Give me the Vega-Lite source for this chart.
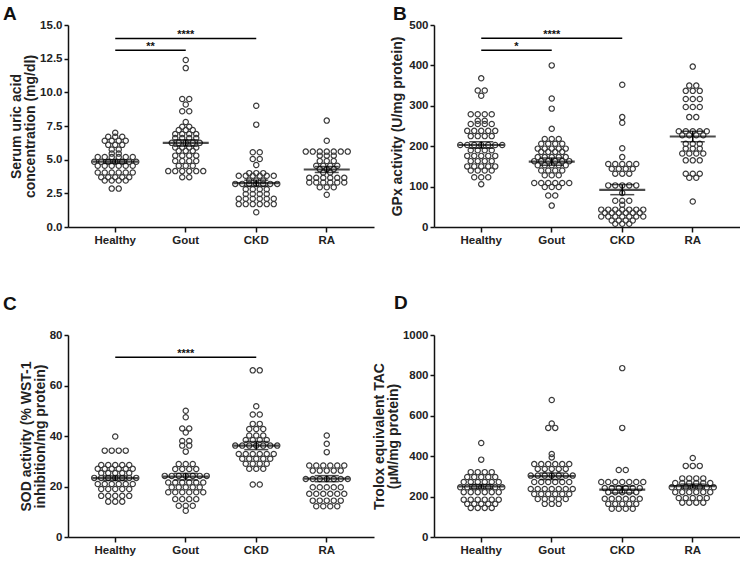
{
"$schema":"https://vega.github.io/schema/vega-lite/v6.json",
"background":"white",
"padding":{"left":3,"top":5,"right":0,"bottom":0},
"config":{"view":{"stroke":null},"font":"Liberation Sans",
"axis":{"labelFont":"Liberation Sans","labelFontWeight":"bold","labelFontSize":11.5,"labelColor":"#222","titleFont":"Liberation Sans","titleFontWeight":"bold","titleFontSize":14,"titleColor":"#222","domainColor":"#111","domainWidth":1.5,"tickColor":"#111","tickWidth":1.5,"grid":false,"tickSize":4,"labelPadding":2,"labelOverlap":false,"titlePadding":2,"titleLineHeight":14}},
"datasets":{
"ptsA":[
{"group":"Healthy","value":7.0},{"group":"Healthy","value":6.7},{"group":"Healthy","value":6.7},{"group":"Healthy","value":6.7},{"group":"Healthy","value":6.4},{"group":"Healthy","value":6.4},{"group":"Healthy","value":6.4},{"group":"Healthy","value":6.4},{"group":"Healthy","value":6.1},{"group":"Healthy","value":6.1},{"group":"Healthy","value":6.1},{"group":"Healthy","value":5.75},{"group":"Healthy","value":5.75},{"group":"Healthy","value":5.45},{"group":"Healthy","value":5.45},{"group":"Healthy","value":5.2},{"group":"Healthy","value":5.2},{"group":"Healthy","value":5.2},{"group":"Healthy","value":5.2},{"group":"Healthy","value":5.2},{"group":"Healthy","value":5.2},{"group":"Healthy","value":4.85},{"group":"Healthy","value":4.85},{"group":"Healthy","value":4.85},{"group":"Healthy","value":4.85},{"group":"Healthy","value":4.85},{"group":"Healthy","value":4.85},{"group":"Healthy","value":4.85},{"group":"Healthy","value":4.55},{"group":"Healthy","value":4.55},{"group":"Healthy","value":4.55},{"group":"Healthy","value":4.55},{"group":"Healthy","value":4.55},{"group":"Healthy","value":4.55},{"group":"Healthy","value":4.05},{"group":"Healthy","value":4.05},{"group":"Healthy","value":4.05},{"group":"Healthy","value":4.05},{"group":"Healthy","value":4.05},{"group":"Healthy","value":4.05},{"group":"Healthy","value":3.7},{"group":"Healthy","value":3.7},{"group":"Healthy","value":3.7},{"group":"Healthy","value":3.7},{"group":"Healthy","value":3.7},{"group":"Healthy","value":3.45},{"group":"Healthy","value":3.45},{"group":"Healthy","value":3.45},{"group":"Healthy","value":3.45},{"group":"Healthy","value":2.85},{"group":"Healthy","value":2.85},
{"group":"Gout","value":12.4},{"group":"Gout","value":11.8},{"group":"Gout","value":9.5},{"group":"Gout","value":9.5},{"group":"Gout","value":9.1},{"group":"Gout","value":8.6},{"group":"Gout","value":8.6},{"group":"Gout","value":7.8},{"group":"Gout","value":7.45},{"group":"Gout","value":7.45},{"group":"Gout","value":7.2},{"group":"Gout","value":7.2},{"group":"Gout","value":7.2},{"group":"Gout","value":6.9},{"group":"Gout","value":6.9},{"group":"Gout","value":6.9},{"group":"Gout","value":6.9},{"group":"Gout","value":6.6},{"group":"Gout","value":6.6},{"group":"Gout","value":6.6},{"group":"Gout","value":6.6},{"group":"Gout","value":6.25},{"group":"Gout","value":6.25},{"group":"Gout","value":6.25},{"group":"Gout","value":6.25},{"group":"Gout","value":6.25},{"group":"Gout","value":5.9},{"group":"Gout","value":5.9},{"group":"Gout","value":5.9},{"group":"Gout","value":5.9},{"group":"Gout","value":5.65},{"group":"Gout","value":5.65},{"group":"Gout","value":5.65},{"group":"Gout","value":5.3},{"group":"Gout","value":5.3},{"group":"Gout","value":5.3},{"group":"Gout","value":5.3},{"group":"Gout","value":4.9},{"group":"Gout","value":4.9},{"group":"Gout","value":4.9},{"group":"Gout","value":4.9},{"group":"Gout","value":4.55},{"group":"Gout","value":4.55},{"group":"Gout","value":4.55},{"group":"Gout","value":4.15},{"group":"Gout","value":4.15},{"group":"Gout","value":4.15},{"group":"Gout","value":4.15},{"group":"Gout","value":4.15},{"group":"Gout","value":4.15},{"group":"Gout","value":3.7},{"group":"Gout","value":3.7},
{"group":"CKD","value":9.0},{"group":"CKD","value":7.6},{"group":"CKD","value":5.55},{"group":"CKD","value":5.55},{"group":"CKD","value":5.05},{"group":"CKD","value":5.05},{"group":"CKD","value":4.6},{"group":"CKD","value":4.0},{"group":"CKD","value":4.0},{"group":"CKD","value":4.0},{"group":"CKD","value":3.8},{"group":"CKD","value":3.8},{"group":"CKD","value":3.8},{"group":"CKD","value":3.8},{"group":"CKD","value":3.8},{"group":"CKD","value":3.8},{"group":"CKD","value":3.45},{"group":"CKD","value":3.45},{"group":"CKD","value":3.45},{"group":"CKD","value":3.2},{"group":"CKD","value":3.2},{"group":"CKD","value":3.2},{"group":"CKD","value":3.2},{"group":"CKD","value":3.2},{"group":"CKD","value":3.2},{"group":"CKD","value":3.2},{"group":"CKD","value":2.8},{"group":"CKD","value":2.8},{"group":"CKD","value":2.8},{"group":"CKD","value":2.8},{"group":"CKD","value":2.45},{"group":"CKD","value":2.45},{"group":"CKD","value":2.45},{"group":"CKD","value":2.45},{"group":"CKD","value":2.1},{"group":"CKD","value":2.1},{"group":"CKD","value":2.1},{"group":"CKD","value":2.1},{"group":"CKD","value":2.1},{"group":"CKD","value":2.1},{"group":"CKD","value":1.7},{"group":"CKD","value":1.7},{"group":"CKD","value":1.7},{"group":"CKD","value":1.7},{"group":"CKD","value":1.7},{"group":"CKD","value":1.7},{"group":"CKD","value":1.1},
{"group":"RA","value":7.9},{"group":"RA","value":6.4},{"group":"RA","value":5.6},{"group":"RA","value":5.6},{"group":"RA","value":5.6},{"group":"RA","value":5.6},{"group":"RA","value":5.6},{"group":"RA","value":5.6},{"group":"RA","value":5.6},{"group":"RA","value":5.3},{"group":"RA","value":5.3},{"group":"RA","value":5.3},{"group":"RA","value":4.9},{"group":"RA","value":4.9},{"group":"RA","value":4.9},{"group":"RA","value":4.55},{"group":"RA","value":4.55},{"group":"RA","value":4.55},{"group":"RA","value":4.55},{"group":"RA","value":4.3},{"group":"RA","value":4.3},{"group":"RA","value":4.3},{"group":"RA","value":4.05},{"group":"RA","value":4.05},{"group":"RA","value":3.65},{"group":"RA","value":3.65},{"group":"RA","value":3.65},{"group":"RA","value":3.65},{"group":"RA","value":3.65},{"group":"RA","value":3.65},{"group":"RA","value":3.3},{"group":"RA","value":3.3},{"group":"RA","value":3.3},{"group":"RA","value":3.3},{"group":"RA","value":3.3},{"group":"RA","value":3.3},{"group":"RA","value":2.95},{"group":"RA","value":2.95},{"group":"RA","value":2.95},{"group":"RA","value":2.4}
],
"ptsB":[
{"group":"Healthy","value":368},{"group":"Healthy","value":338},{"group":"Healthy","value":338},{"group":"Healthy","value":325},{"group":"Healthy","value":279},{"group":"Healthy","value":279},{"group":"Healthy","value":279},{"group":"Healthy","value":279},{"group":"Healthy","value":263},{"group":"Healthy","value":263},{"group":"Healthy","value":255},{"group":"Healthy","value":255},{"group":"Healthy","value":255},{"group":"Healthy","value":255},{"group":"Healthy","value":238},{"group":"Healthy","value":238},{"group":"Healthy","value":238},{"group":"Healthy","value":238},{"group":"Healthy","value":238},{"group":"Healthy","value":225},{"group":"Healthy","value":225},{"group":"Healthy","value":225},{"group":"Healthy","value":225},{"group":"Healthy","value":203},{"group":"Healthy","value":203},{"group":"Healthy","value":203},{"group":"Healthy","value":203},{"group":"Healthy","value":203},{"group":"Healthy","value":203},{"group":"Healthy","value":203},{"group":"Healthy","value":190},{"group":"Healthy","value":190},{"group":"Healthy","value":190},{"group":"Healthy","value":190},{"group":"Healthy","value":176},{"group":"Healthy","value":176},{"group":"Healthy","value":176},{"group":"Healthy","value":176},{"group":"Healthy","value":176},{"group":"Healthy","value":163},{"group":"Healthy","value":163},{"group":"Healthy","value":163},{"group":"Healthy","value":163},{"group":"Healthy","value":150},{"group":"Healthy","value":150},{"group":"Healthy","value":150},{"group":"Healthy","value":150},{"group":"Healthy","value":150},{"group":"Healthy","value":140},{"group":"Healthy","value":140},{"group":"Healthy","value":140},{"group":"Healthy","value":140},{"group":"Healthy","value":123},{"group":"Healthy","value":123},{"group":"Healthy","value":123},{"group":"Healthy","value":106},
{"group":"Gout","value":400},{"group":"Gout","value":318},{"group":"Gout","value":293},{"group":"Gout","value":243},{"group":"Gout","value":218},{"group":"Gout","value":218},{"group":"Gout","value":218},{"group":"Gout","value":206},{"group":"Gout","value":206},{"group":"Gout","value":206},{"group":"Gout","value":206},{"group":"Gout","value":194},{"group":"Gout","value":194},{"group":"Gout","value":194},{"group":"Gout","value":194},{"group":"Gout","value":194},{"group":"Gout","value":186},{"group":"Gout","value":186},{"group":"Gout","value":186},{"group":"Gout","value":186},{"group":"Gout","value":173},{"group":"Gout","value":173},{"group":"Gout","value":173},{"group":"Gout","value":173},{"group":"Gout","value":173},{"group":"Gout","value":163},{"group":"Gout","value":163},{"group":"Gout","value":163},{"group":"Gout","value":163},{"group":"Gout","value":163},{"group":"Gout","value":163},{"group":"Gout","value":153},{"group":"Gout","value":153},{"group":"Gout","value":153},{"group":"Gout","value":153},{"group":"Gout","value":153},{"group":"Gout","value":140},{"group":"Gout","value":140},{"group":"Gout","value":140},{"group":"Gout","value":140},{"group":"Gout","value":128},{"group":"Gout","value":128},{"group":"Gout","value":128},{"group":"Gout","value":109},{"group":"Gout","value":109},{"group":"Gout","value":109},{"group":"Gout","value":109},{"group":"Gout","value":109},{"group":"Gout","value":109},{"group":"Gout","value":99},{"group":"Gout","value":99},{"group":"Gout","value":99},{"group":"Gout","value":78},{"group":"Gout","value":78},{"group":"Gout","value":53},
{"group":"CKD","value":352},{"group":"CKD","value":272},{"group":"CKD","value":258},{"group":"CKD","value":195},{"group":"CKD","value":173},{"group":"CKD","value":156},{"group":"CKD","value":156},{"group":"CKD","value":156},{"group":"CKD","value":156},{"group":"CKD","value":156},{"group":"CKD","value":144},{"group":"CKD","value":144},{"group":"CKD","value":144},{"group":"CKD","value":144},{"group":"CKD","value":132},{"group":"CKD","value":132},{"group":"CKD","value":132},{"group":"CKD","value":103},{"group":"CKD","value":103},{"group":"CKD","value":103},{"group":"CKD","value":103},{"group":"CKD","value":103},{"group":"CKD","value":84},{"group":"CKD","value":65},{"group":"CKD","value":65},{"group":"CKD","value":65},{"group":"CKD","value":55},{"group":"CKD","value":43},{"group":"CKD","value":43},{"group":"CKD","value":43},{"group":"CKD","value":43},{"group":"CKD","value":43},{"group":"CKD","value":43},{"group":"CKD","value":43},{"group":"CKD","value":35},{"group":"CKD","value":35},{"group":"CKD","value":35},{"group":"CKD","value":35},{"group":"CKD","value":35},{"group":"CKD","value":35},{"group":"CKD","value":26},{"group":"CKD","value":26},{"group":"CKD","value":26},{"group":"CKD","value":26},{"group":"CKD","value":26},{"group":"CKD","value":26},{"group":"CKD","value":26},{"group":"CKD","value":16},{"group":"CKD","value":16},{"group":"CKD","value":16},{"group":"CKD","value":16},{"group":"CKD","value":8},{"group":"CKD","value":8},{"group":"CKD","value":8},
{"group":"RA","value":397},{"group":"RA","value":350},{"group":"RA","value":350},{"group":"RA","value":337},{"group":"RA","value":337},{"group":"RA","value":337},{"group":"RA","value":317},{"group":"RA","value":317},{"group":"RA","value":317},{"group":"RA","value":297},{"group":"RA","value":297},{"group":"RA","value":297},{"group":"RA","value":272},{"group":"RA","value":272},{"group":"RA","value":237},{"group":"RA","value":237},{"group":"RA","value":237},{"group":"RA","value":237},{"group":"RA","value":237},{"group":"RA","value":227},{"group":"RA","value":227},{"group":"RA","value":227},{"group":"RA","value":227},{"group":"RA","value":206},{"group":"RA","value":206},{"group":"RA","value":206},{"group":"RA","value":194},{"group":"RA","value":194},{"group":"RA","value":194},{"group":"RA","value":182},{"group":"RA","value":182},{"group":"RA","value":182},{"group":"RA","value":182},{"group":"RA","value":165},{"group":"RA","value":165},{"group":"RA","value":165},{"group":"RA","value":132},{"group":"RA","value":132},{"group":"RA","value":132},{"group":"RA","value":122},{"group":"RA","value":122},{"group":"RA","value":63}
],
"ptsC":[
{"group":"Healthy","value":39.8},{"group":"Healthy","value":34.2},{"group":"Healthy","value":34.2},{"group":"Healthy","value":34.2},{"group":"Healthy","value":34.2},{"group":"Healthy","value":28.5},{"group":"Healthy","value":28.5},{"group":"Healthy","value":28.5},{"group":"Healthy","value":28.5},{"group":"Healthy","value":28.5},{"group":"Healthy","value":27},{"group":"Healthy","value":27},{"group":"Healthy","value":27},{"group":"Healthy","value":27},{"group":"Healthy","value":27},{"group":"Healthy","value":27},{"group":"Healthy","value":25.3},{"group":"Healthy","value":25.3},{"group":"Healthy","value":25.3},{"group":"Healthy","value":25.3},{"group":"Healthy","value":25.3},{"group":"Healthy","value":23.4},{"group":"Healthy","value":23.4},{"group":"Healthy","value":23.4},{"group":"Healthy","value":23.4},{"group":"Healthy","value":23.4},{"group":"Healthy","value":23.4},{"group":"Healthy","value":23.4},{"group":"Healthy","value":21},{"group":"Healthy","value":21},{"group":"Healthy","value":21},{"group":"Healthy","value":21},{"group":"Healthy","value":21},{"group":"Healthy","value":21},{"group":"Healthy","value":19},{"group":"Healthy","value":19},{"group":"Healthy","value":19},{"group":"Healthy","value":19},{"group":"Healthy","value":19},{"group":"Healthy","value":16.3},{"group":"Healthy","value":16.3},{"group":"Healthy","value":16.3},{"group":"Healthy","value":16.3},{"group":"Healthy","value":16.3},{"group":"Healthy","value":14},{"group":"Healthy","value":14},{"group":"Healthy","value":14},
{"group":"Gout","value":50},{"group":"Gout","value":47.4},{"group":"Gout","value":43},{"group":"Gout","value":43},{"group":"Gout","value":41.4},{"group":"Gout","value":38},{"group":"Gout","value":38},{"group":"Gout","value":36.2},{"group":"Gout","value":36.2},{"group":"Gout","value":33.8},{"group":"Gout","value":28.9},{"group":"Gout","value":28.9},{"group":"Gout","value":28.9},{"group":"Gout","value":26.9},{"group":"Gout","value":26.9},{"group":"Gout","value":26.9},{"group":"Gout","value":26.9},{"group":"Gout","value":24.2},{"group":"Gout","value":24.2},{"group":"Gout","value":24.2},{"group":"Gout","value":24.2},{"group":"Gout","value":24.2},{"group":"Gout","value":24.2},{"group":"Gout","value":24.2},{"group":"Gout","value":21.6},{"group":"Gout","value":21.6},{"group":"Gout","value":21.6},{"group":"Gout","value":21.6},{"group":"Gout","value":21.6},{"group":"Gout","value":21.6},{"group":"Gout","value":19.7},{"group":"Gout","value":19.7},{"group":"Gout","value":19.7},{"group":"Gout","value":19.7},{"group":"Gout","value":19.7},{"group":"Gout","value":17.7},{"group":"Gout","value":17.7},{"group":"Gout","value":17.7},{"group":"Gout","value":17.7},{"group":"Gout","value":17.7},{"group":"Gout","value":17.7},{"group":"Gout","value":15},{"group":"Gout","value":15},{"group":"Gout","value":15},{"group":"Gout","value":15},{"group":"Gout","value":12.4},{"group":"Gout","value":12.4},{"group":"Gout","value":12.4},{"group":"Gout","value":10.4},
{"group":"CKD","value":66},{"group":"CKD","value":66},{"group":"CKD","value":51.8},{"group":"CKD","value":48.5},{"group":"CKD","value":48.5},{"group":"CKD","value":44.8},{"group":"CKD","value":44.8},{"group":"CKD","value":42.8},{"group":"CKD","value":42.8},{"group":"CKD","value":42.8},{"group":"CKD","value":40.2},{"group":"CKD","value":40.2},{"group":"CKD","value":40.2},{"group":"CKD","value":38.4},{"group":"CKD","value":38.4},{"group":"CKD","value":38.4},{"group":"CKD","value":38.4},{"group":"CKD","value":36.2},{"group":"CKD","value":36.2},{"group":"CKD","value":36.2},{"group":"CKD","value":36.2},{"group":"CKD","value":36.2},{"group":"CKD","value":36.2},{"group":"CKD","value":36.2},{"group":"CKD","value":32.9},{"group":"CKD","value":32.9},{"group":"CKD","value":32.9},{"group":"CKD","value":32.9},{"group":"CKD","value":32.9},{"group":"CKD","value":32.9},{"group":"CKD","value":31},{"group":"CKD","value":31},{"group":"CKD","value":31},{"group":"CKD","value":31},{"group":"CKD","value":31},{"group":"CKD","value":29},{"group":"CKD","value":29},{"group":"CKD","value":29},{"group":"CKD","value":29},{"group":"CKD","value":27},{"group":"CKD","value":27},{"group":"CKD","value":27},{"group":"CKD","value":20.8},{"group":"CKD","value":20.8},
{"group":"RA","value":40.2},{"group":"RA","value":36.9},{"group":"RA","value":33.6},{"group":"RA","value":28.3},{"group":"RA","value":28.3},{"group":"RA","value":28.3},{"group":"RA","value":28.3},{"group":"RA","value":28.3},{"group":"RA","value":28.3},{"group":"RA","value":26.3},{"group":"RA","value":26.3},{"group":"RA","value":26.3},{"group":"RA","value":26.3},{"group":"RA","value":26.3},{"group":"RA","value":23},{"group":"RA","value":23},{"group":"RA","value":23},{"group":"RA","value":23},{"group":"RA","value":23},{"group":"RA","value":23},{"group":"RA","value":23},{"group":"RA","value":19.7},{"group":"RA","value":19.7},{"group":"RA","value":19.7},{"group":"RA","value":19.7},{"group":"RA","value":19.7},{"group":"RA","value":17.1},{"group":"RA","value":17.1},{"group":"RA","value":17.1},{"group":"RA","value":17.1},{"group":"RA","value":17.1},{"group":"RA","value":17.1},{"group":"RA","value":14.4},{"group":"RA","value":14.4},{"group":"RA","value":14.4},{"group":"RA","value":14.4},{"group":"RA","value":14.4},{"group":"RA","value":12.2},{"group":"RA","value":12.2},{"group":"RA","value":12.2},{"group":"RA","value":12.2}
],
"ptsD":[
{"group":"Healthy","value":465},{"group":"Healthy","value":383},{"group":"Healthy","value":321},{"group":"Healthy","value":321},{"group":"Healthy","value":321},{"group":"Healthy","value":321},{"group":"Healthy","value":297},{"group":"Healthy","value":297},{"group":"Healthy","value":297},{"group":"Healthy","value":297},{"group":"Healthy","value":297},{"group":"Healthy","value":272},{"group":"Healthy","value":272},{"group":"Healthy","value":272},{"group":"Healthy","value":272},{"group":"Healthy","value":272},{"group":"Healthy","value":272},{"group":"Healthy","value":246},{"group":"Healthy","value":246},{"group":"Healthy","value":246},{"group":"Healthy","value":246},{"group":"Healthy","value":246},{"group":"Healthy","value":246},{"group":"Healthy","value":246},{"group":"Healthy","value":222},{"group":"Healthy","value":222},{"group":"Healthy","value":222},{"group":"Healthy","value":222},{"group":"Healthy","value":222},{"group":"Healthy","value":222},{"group":"Healthy","value":185},{"group":"Healthy","value":185},{"group":"Healthy","value":185},{"group":"Healthy","value":185},{"group":"Healthy","value":185},{"group":"Healthy","value":185},{"group":"Healthy","value":164},{"group":"Healthy","value":164},{"group":"Healthy","value":164},{"group":"Healthy","value":164},{"group":"Healthy","value":164},{"group":"Healthy","value":144},{"group":"Healthy","value":144},{"group":"Healthy","value":144},{"group":"Healthy","value":144},
{"group":"Gout","value":678},{"group":"Gout","value":562},{"group":"Gout","value":540},{"group":"Gout","value":540},{"group":"Gout","value":411},{"group":"Gout","value":394},{"group":"Gout","value":361},{"group":"Gout","value":361},{"group":"Gout","value":361},{"group":"Gout","value":361},{"group":"Gout","value":361},{"group":"Gout","value":361},{"group":"Gout","value":337},{"group":"Gout","value":337},{"group":"Gout","value":337},{"group":"Gout","value":337},{"group":"Gout","value":337},{"group":"Gout","value":304},{"group":"Gout","value":304},{"group":"Gout","value":304},{"group":"Gout","value":304},{"group":"Gout","value":304},{"group":"Gout","value":304},{"group":"Gout","value":304},{"group":"Gout","value":272},{"group":"Gout","value":272},{"group":"Gout","value":272},{"group":"Gout","value":272},{"group":"Gout","value":272},{"group":"Gout","value":272},{"group":"Gout","value":238},{"group":"Gout","value":238},{"group":"Gout","value":238},{"group":"Gout","value":238},{"group":"Gout","value":238},{"group":"Gout","value":238},{"group":"Gout","value":238},{"group":"Gout","value":213},{"group":"Gout","value":213},{"group":"Gout","value":213},{"group":"Gout","value":213},{"group":"Gout","value":213},{"group":"Gout","value":213},{"group":"Gout","value":188},{"group":"Gout","value":188},{"group":"Gout","value":188},{"group":"Gout","value":188},{"group":"Gout","value":188},{"group":"Gout","value":164},{"group":"Gout","value":164},{"group":"Gout","value":164},
{"group":"CKD","value":836},{"group":"CKD","value":540},{"group":"CKD","value":332},{"group":"CKD","value":332},{"group":"CKD","value":272},{"group":"CKD","value":272},{"group":"CKD","value":272},{"group":"CKD","value":272},{"group":"CKD","value":272},{"group":"CKD","value":272},{"group":"CKD","value":272},{"group":"CKD","value":242},{"group":"CKD","value":242},{"group":"CKD","value":242},{"group":"CKD","value":242},{"group":"CKD","value":242},{"group":"CKD","value":242},{"group":"CKD","value":222},{"group":"CKD","value":222},{"group":"CKD","value":222},{"group":"CKD","value":222},{"group":"CKD","value":222},{"group":"CKD","value":189},{"group":"CKD","value":189},{"group":"CKD","value":189},{"group":"CKD","value":189},{"group":"CKD","value":189},{"group":"CKD","value":189},{"group":"CKD","value":164},{"group":"CKD","value":164},{"group":"CKD","value":164},{"group":"CKD","value":164},{"group":"CKD","value":164},{"group":"CKD","value":140},{"group":"CKD","value":140},{"group":"CKD","value":140},{"group":"CKD","value":140},
{"group":"RA","value":391},{"group":"RA","value":352},{"group":"RA","value":352},{"group":"RA","value":352},{"group":"RA","value":290},{"group":"RA","value":290},{"group":"RA","value":290},{"group":"RA","value":290},{"group":"RA","value":267},{"group":"RA","value":267},{"group":"RA","value":267},{"group":"RA","value":267},{"group":"RA","value":267},{"group":"RA","value":267},{"group":"RA","value":246},{"group":"RA","value":246},{"group":"RA","value":246},{"group":"RA","value":246},{"group":"RA","value":246},{"group":"RA","value":246},{"group":"RA","value":246},{"group":"RA","value":222},{"group":"RA","value":222},{"group":"RA","value":222},{"group":"RA","value":222},{"group":"RA","value":222},{"group":"RA","value":222},{"group":"RA","value":193},{"group":"RA","value":193},{"group":"RA","value":193},{"group":"RA","value":193},{"group":"RA","value":193},{"group":"RA","value":170},{"group":"RA","value":170},{"group":"RA","value":170},{"group":"RA","value":170}
],
"stats":[
{"panel":"A","group":"Healthy","mean":4.86,"lo":4.72,"hi":5.0},{"panel":"A","group":"Gout","mean":6.24,"lo":6.0,"hi":6.48},{"panel":"A","group":"CKD","mean":3.26,"lo":3.04,"hi":3.48},{"panel":"A","group":"RA","mean":4.27,"lo":4.05,"hi":4.49},
{"panel":"B","group":"Healthy","mean":203,"lo":195,"hi":211},{"panel":"B","group":"Gout","mean":162,"lo":153,"hi":171},{"panel":"B","group":"CKD","mean":92,"lo":80,"hi":105},{"panel":"B","group":"RA","mean":224,"lo":211,"hi":237},
{"panel":"C","group":"Healthy","mean":23.3,"lo":22.4,"hi":24.2},{"panel":"C","group":"Gout","mean":23.9,"lo":22.6,"hi":25.2},{"panel":"C","group":"CKD","mean":36.2,"lo":34.6,"hi":37.8},{"panel":"C","group":"RA","mean":23.1,"lo":21.9,"hi":24.3},
{"panel":"D","group":"Healthy","mean":250,"lo":240,"hi":260},{"panel":"D","group":"Gout","mean":301,"lo":285,"hi":317},{"panel":"D","group":"CKD","mean":235,"lo":218,"hi":252},{"panel":"D","group":"RA","mean":252,"lo":242,"hi":262}
],
"sig":[
{"panel":"A","from":"Healthy","to":"Gout","level":13.13,"label":"**"},{"panel":"A","from":"Healthy","to":"CKD","level":14.0,"label":"****"},
{"panel":"B","from":"Healthy","to":"Gout","level":437.5,"label":"*"},{"panel":"B","from":"Healthy","to":"CKD","level":467,"label":"****"},
{"panel":"C","from":"Healthy","to":"CKD","level":71.2,"label":"****"}
]
},
"columns":2,
"spacing":{"row":108,"column":60},
"bounds":"flush",
"concat":[
{"width":306,"height":202,
"title":{"text":"A","anchor":"start","frame":"group","dx":-65,"offset":-20,"baseline":"alphabetic","fontSize":19,"fontWeight":"bold","font":"Liberation Sans","color":"#111"},
"layer":[
{"data":{"name":"ptsA"},
"transform":[{"window":[{"op":"row_number","as":"r"}],"groupby":["group","value"]},{"joinaggregate":[{"op":"count","as":"n"}],"groupby":["group","value"]},{"calculate":"(datum.r - (datum.n + 1) / 2) * 7","as":"dx"}],
"mark":{"type":"point","shape":"circle","filled":false,"size":28,"strokeWidth":1.2,"color":"#3a3a3a","opacity":1},
"encoding":{
"x":{"field":"group","type":"nominal","title":null,"scale":{"domain":["Healthy","Gout","CKD","RA"],"paddingInner":0,"paddingOuter":0.17},"axis":{"labelAngle":0,"tickSize":5}},
"xOffset":{"field":"dx","type":"quantitative","scale":{"domain":[-35.25,35.25],"range":[0,70.5]}},
"y":{"field":"value","type":"quantitative","title":["Serum uric acid","concentration (mg/dl)"],"scale":{"domain":[0,15],"nice":false,"zero":false},"axis":{"values":[0,2.5,5,7.5,10,12.5,15],"format":".1f"}}}},
{"data":{"name":"stats"},"transform":[{"filter":"datum.panel === 'A'"}],"mark":{"type":"rule","color":"#000","strokeWidth":1.5},
"encoding":{"x":{"field":"group","type":"nominal"},"y":{"field":"lo","type":"quantitative","axis":{"values":[0,2.5,5,7.5,10,12.5,15],"format":".1f"}},"y2":{"field":"hi"}}},
{"data":{"name":"stats"},"transform":[{"filter":"datum.panel === 'A'"}],"mark":{"type":"tick","orient":"horizontal","size":24,"thickness":1.5,"color":"#000"},
"encoding":{"x":{"field":"group","type":"nominal"},"y":{"field":"lo","type":"quantitative","axis":{"values":[0,2.5,5,7.5,10,12.5,15],"format":".1f"}}}},
{"data":{"name":"stats"},"transform":[{"filter":"datum.panel === 'A'"}],"mark":{"type":"tick","orient":"horizontal","size":24,"thickness":1.5,"color":"#000"},
"encoding":{"x":{"field":"group","type":"nominal"},"y":{"field":"hi","type":"quantitative","axis":{"values":[0,2.5,5,7.5,10,12.5,15],"format":".1f"}}}},
{"data":{"name":"stats"},"transform":[{"filter":"datum.panel === 'A'"}],"mark":{"type":"tick","orient":"horizontal","size":46,"thickness":2.2,"color":"#000"},
"encoding":{"x":{"field":"group","type":"nominal"},"y":{"field":"mean","type":"quantitative","axis":{"values":[0,2.5,5,7.5,10,12.5,15],"format":".1f"}}}},
{"data":{"name":"sig"},"transform":[{"filter":"datum.panel === 'A'"}],"mark":{"type":"rule","color":"#000","strokeWidth":1.5},
"encoding":{"x":{"field":"from","type":"nominal"},"x2":{"field":"to"},"y":{"field":"level","type":"quantitative","axis":{"values":[0,2.5,5,7.5,10,12.5,15],"format":".1f"}}}},
{"data":{"name":"sig"},"transform":[{"filter":"datum.panel === 'A'"},{"calculate":"(indexof(['Healthy','Gout','CKD','RA'], datum.to) - indexof(['Healthy','Gout','CKD','RA'], datum.from)) * 35.25","as":"mid"}],
"mark":{"type":"text","baseline":"alphabetic","align":"center","fontSize":11,"fontWeight":"bold","font":"Liberation Sans","color":"#111"},
"encoding":{"x":{"field":"from","type":"nominal"},"xOffset":{"field":"mid","type":"quantitative","scale":{"domain":[-35.25,35.25],"range":[0,70.5]}},"y":{"field":"level","type":"quantitative","axis":{"values":[0,2.5,5,7.5,10,12.5,15],"format":".1f"}},"text":{"field":"label"}}}
]},
{"width":306,"height":202,
"title":{"text":"B","anchor":"start","frame":"group","dx":-41,"offset":-20,"baseline":"alphabetic","fontSize":19,"fontWeight":"bold","font":"Liberation Sans","color":"#111"},
"layer":[
{"data":{"name":"ptsB"},
"transform":[{"window":[{"op":"row_number","as":"r"}],"groupby":["group","value"]},{"joinaggregate":[{"op":"count","as":"n"}],"groupby":["group","value"]},{"calculate":"(datum.r - (datum.n + 1) / 2) * 7","as":"dx"}],
"mark":{"type":"point","shape":"circle","filled":false,"size":28,"strokeWidth":1.2,"color":"#3a3a3a","opacity":1},
"encoding":{
"x":{"field":"group","type":"nominal","title":null,"scale":{"domain":["Healthy","Gout","CKD","RA"],"paddingInner":0,"paddingOuter":0.17},"axis":{"labelAngle":0,"tickSize":5}},
"xOffset":{"field":"dx","type":"quantitative","scale":{"domain":[-35.25,35.25],"range":[0,70.5]}},
"y":{"field":"value","type":"quantitative","title":"GPx activity (U/mg protein)","scale":{"domain":[0,500],"nice":false,"zero":false},"axis":{"values":[0,100,200,300,400,500],"format":"d","titlePadding":4}}}},
{"data":{"name":"stats"},"transform":[{"filter":"datum.panel === 'B'"}],"mark":{"type":"rule","color":"#000","strokeWidth":1.5},
"encoding":{"x":{"field":"group","type":"nominal"},"y":{"field":"lo","type":"quantitative"},"y2":{"field":"hi"}}},
{"data":{"name":"stats"},"transform":[{"filter":"datum.panel === 'B'"}],"mark":{"type":"tick","orient":"horizontal","size":24,"thickness":1.5,"color":"#000"},
"encoding":{"x":{"field":"group","type":"nominal"},"y":{"field":"lo","type":"quantitative"}}},
{"data":{"name":"stats"},"transform":[{"filter":"datum.panel === 'B'"}],"mark":{"type":"tick","orient":"horizontal","size":24,"thickness":1.5,"color":"#000"},
"encoding":{"x":{"field":"group","type":"nominal"},"y":{"field":"hi","type":"quantitative"}}},
{"data":{"name":"stats"},"transform":[{"filter":"datum.panel === 'B'"}],"mark":{"type":"tick","orient":"horizontal","size":46,"thickness":2.2,"color":"#000"},
"encoding":{"x":{"field":"group","type":"nominal"},"y":{"field":"mean","type":"quantitative"}}},
{"data":{"name":"sig"},"transform":[{"filter":"datum.panel === 'B'"}],"mark":{"type":"rule","color":"#000","strokeWidth":1.5},
"encoding":{"x":{"field":"from","type":"nominal"},"x2":{"field":"to"},"y":{"field":"level","type":"quantitative"}}},
{"data":{"name":"sig"},"transform":[{"filter":"datum.panel === 'B'"},{"calculate":"(indexof(['Healthy','Gout','CKD','RA'], datum.to) - indexof(['Healthy','Gout','CKD','RA'], datum.from)) * 35.25","as":"mid"}],
"mark":{"type":"text","baseline":"alphabetic","align":"center","fontSize":11,"fontWeight":"bold","font":"Liberation Sans","color":"#111"},
"encoding":{"x":{"field":"from","type":"nominal"},"xOffset":{"field":"mid","type":"quantitative","scale":{"domain":[-35.25,35.25],"range":[0,70.5]}},"y":{"field":"level","type":"quantitative"},"text":{"field":"label"}}}
]},
{"width":306,"height":202,
"title":{"text":"C","anchor":"start","frame":"group","dx":-65,"offset":0,"baseline":"alphabetic","fontSize":19,"fontWeight":"bold","font":"Liberation Sans","color":"#111"},
"layer":[
{"data":{"name":"ptsC"},
"transform":[{"window":[{"op":"row_number","as":"r"}],"groupby":["group","value"]},{"joinaggregate":[{"op":"count","as":"n"}],"groupby":["group","value"]},{"calculate":"(datum.r - (datum.n + 1) / 2) * 7","as":"dx"}],
"mark":{"type":"point","shape":"circle","filled":false,"size":28,"strokeWidth":1.2,"color":"#3a3a3a","opacity":1},
"encoding":{
"x":{"field":"group","type":"nominal","title":null,"scale":{"domain":["Healthy","Gout","CKD","RA"],"paddingInner":0,"paddingOuter":0.17},"axis":{"labelAngle":0,"tickSize":5}},
"xOffset":{"field":"dx","type":"quantitative","scale":{"domain":[-35.25,35.25],"range":[0,70.5]}},
"y":{"field":"value","type":"quantitative","title":["SOD activity (% WST-1","inhibition/mg protein)"],"scale":{"domain":[0,80],"nice":false,"zero":false},"axis":{"values":[0,20,40,60,80],"format":"d"}}}},
{"data":{"name":"stats"},"transform":[{"filter":"datum.panel === 'C'"}],"mark":{"type":"rule","color":"#000","strokeWidth":1.5},
"encoding":{"x":{"field":"group","type":"nominal"},"y":{"field":"lo","type":"quantitative"},"y2":{"field":"hi"}}},
{"data":{"name":"stats"},"transform":[{"filter":"datum.panel === 'C'"}],"mark":{"type":"tick","orient":"horizontal","size":24,"thickness":1.5,"color":"#000"},
"encoding":{"x":{"field":"group","type":"nominal"},"y":{"field":"lo","type":"quantitative"}}},
{"data":{"name":"stats"},"transform":[{"filter":"datum.panel === 'C'"}],"mark":{"type":"tick","orient":"horizontal","size":24,"thickness":1.5,"color":"#000"},
"encoding":{"x":{"field":"group","type":"nominal"},"y":{"field":"hi","type":"quantitative"}}},
{"data":{"name":"stats"},"transform":[{"filter":"datum.panel === 'C'"}],"mark":{"type":"tick","orient":"horizontal","size":46,"thickness":2.2,"color":"#000"},
"encoding":{"x":{"field":"group","type":"nominal"},"y":{"field":"mean","type":"quantitative"}}},
{"data":{"name":"sig"},"transform":[{"filter":"datum.panel === 'C'"}],"mark":{"type":"rule","color":"#000","strokeWidth":1.5},
"encoding":{"x":{"field":"from","type":"nominal"},"x2":{"field":"to"},"y":{"field":"level","type":"quantitative"}}},
{"data":{"name":"sig"},"transform":[{"filter":"datum.panel === 'C'"},{"calculate":"(indexof(['Healthy','Gout','CKD','RA'], datum.to) - indexof(['Healthy','Gout','CKD','RA'], datum.from)) * 35.25","as":"mid"}],
"mark":{"type":"text","baseline":"alphabetic","align":"center","fontSize":11,"fontWeight":"bold","font":"Liberation Sans","color":"#111"},
"encoding":{"x":{"field":"from","type":"nominal"},"xOffset":{"field":"mid","type":"quantitative","scale":{"domain":[-35.25,35.25],"range":[0,70.5]}},"y":{"field":"level","type":"quantitative"},"text":{"field":"label"}}}
]},
{"width":306,"height":202,
"title":{"text":"D","anchor":"start","frame":"group","dx":-40,"offset":1,"baseline":"alphabetic","fontSize":19,"fontWeight":"bold","font":"Liberation Sans","color":"#111"},
"layer":[
{"data":{"name":"ptsD"},
"transform":[{"window":[{"op":"row_number","as":"r"}],"groupby":["group","value"]},{"joinaggregate":[{"op":"count","as":"n"}],"groupby":["group","value"]},{"calculate":"(datum.r - (datum.n + 1) / 2) * 7","as":"dx"}],
"mark":{"type":"point","shape":"circle","filled":false,"size":28,"strokeWidth":1.2,"color":"#3a3a3a","opacity":1},
"encoding":{
"x":{"field":"group","type":"nominal","title":null,"scale":{"domain":["Healthy","Gout","CKD","RA"],"paddingInner":0,"paddingOuter":0.17},"axis":{"labelAngle":0,"tickSize":5}},
"xOffset":{"field":"dx","type":"quantitative","scale":{"domain":[-35.25,35.25],"range":[0,70.5]}},
"y":{"field":"value","type":"quantitative","title":["Trolox equivalent TAC","(µM/mg protein)"],"scale":{"domain":[0,1000],"nice":false,"zero":false},"axis":{"values":[0,200,400,600,800,1000],"format":"d"}}}},
{"data":{"name":"stats"},"transform":[{"filter":"datum.panel === 'D'"}],"mark":{"type":"rule","color":"#000","strokeWidth":1.5},
"encoding":{"x":{"field":"group","type":"nominal"},"y":{"field":"lo","type":"quantitative"},"y2":{"field":"hi"}}},
{"data":{"name":"stats"},"transform":[{"filter":"datum.panel === 'D'"}],"mark":{"type":"tick","orient":"horizontal","size":24,"thickness":1.5,"color":"#000"},
"encoding":{"x":{"field":"group","type":"nominal"},"y":{"field":"lo","type":"quantitative"}}},
{"data":{"name":"stats"},"transform":[{"filter":"datum.panel === 'D'"}],"mark":{"type":"tick","orient":"horizontal","size":24,"thickness":1.5,"color":"#000"},
"encoding":{"x":{"field":"group","type":"nominal"},"y":{"field":"hi","type":"quantitative"}}},
{"data":{"name":"stats"},"transform":[{"filter":"datum.panel === 'D'"}],"mark":{"type":"tick","orient":"horizontal","size":46,"thickness":2.2,"color":"#000"},
"encoding":{"x":{"field":"group","type":"nominal"},"y":{"field":"mean","type":"quantitative"}}}
]}
]
}
